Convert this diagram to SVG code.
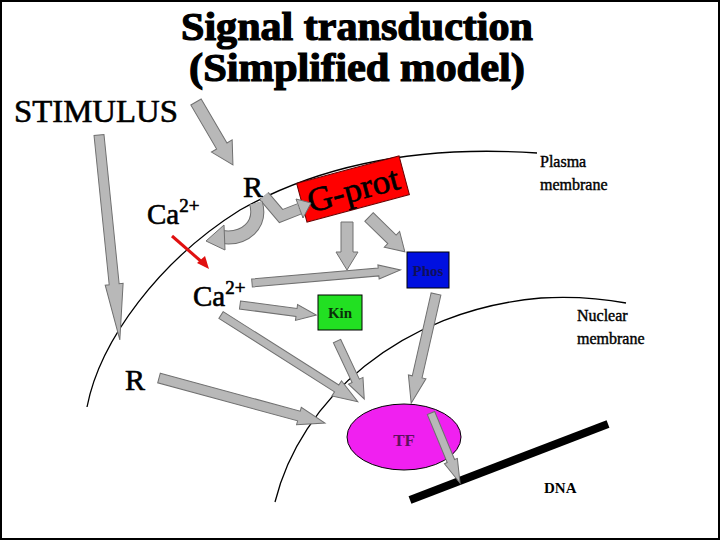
<svg xmlns="http://www.w3.org/2000/svg" width="720" height="540" viewBox="0 0 720 540">
<style>
.t{font-family:"Liberation Serif",serif;fill:#000}
.b{font-weight:bold}
.ar{fill:#b8b8b8;stroke:#707070;stroke-width:1}
.mem{fill:none;stroke:#000;stroke-width:1.3}
</style>
<rect x="0" y="0" width="720" height="540" fill="#fff"/>
<rect x="1" y="1" width="718" height="538" fill="none" stroke="#000" stroke-width="2"/>
<g id="title">
<text class="t b" x="357" y="40" font-size="40" text-anchor="middle" stroke="#000" stroke-width="1.2" textLength="352" lengthAdjust="spacingAndGlyphs">Signal transduction</text>
<text class="t b" x="357" y="81" font-size="40" text-anchor="middle" stroke="#000" stroke-width="1.2" textLength="336" lengthAdjust="spacingAndGlyphs">(Simplified model)</text>
</g>
<g id="membranes">
<path class="mem" d="M87,407 C100,340 160,260 240,210 C320,165 420,145 537,153"/>
<path class="mem" d="M275,502 C300,400 400,310 541,298 C580,296 610,300 626,303"/>
<text class="t" x="540" y="167" font-size="16" stroke="#000" stroke-width="0.4">Plasma</text>
<text class="t" x="540" y="190" font-size="16" stroke="#000" stroke-width="0.4">membrane</text>
<text class="t" x="577" y="321" font-size="16" stroke="#000" stroke-width="0.4">Nuclear</text>
<text class="t" x="577" y="344" font-size="16" stroke="#000" stroke-width="0.4">membrane</text>
</g>
<g id="stimulus"><text class="t" x="14" y="122" font-size="32" stroke="#000" stroke-width="0.6" textLength="164" lengthAdjust="spacingAndGlyphs">STIMULUS</text></g>
<g id="R1"><text class="t" x="243" y="197" font-size="30" stroke="#000" stroke-width="0.6">R</text></g>
<g id="Ca1"><text class="t" x="147" y="224" font-size="29" stroke="#000" stroke-width="0.6">Ca<tspan font-size="19" dy="-12">2+</tspan></text></g>
<g id="Ca2"><text class="t" x="193" y="306" font-size="29" stroke="#000" stroke-width="0.6">Ca<tspan font-size="19" dy="-12">2+</tspan></text></g>
<g id="R2"><text class="t" x="125" y="390" font-size="30" stroke="#000" stroke-width="0.6">R</text></g>
<g id="gprot" transform="translate(353,189) rotate(-15)">
<rect x="-53" y="-20" width="106" height="40" fill="#f00" stroke="#600" stroke-width="1"/>
<text class="t" x="0" y="12" font-size="34" text-anchor="middle" stroke="#000" stroke-width="0.6" textLength="94" lengthAdjust="spacingAndGlyphs">G-prot</text>
</g>
<g id="phos"><rect x="407" y="252" width="42" height="36" fill="#0010e0" stroke="#000" stroke-width="1"/>
<text class="t b" x="428" y="276" font-size="15" text-anchor="middle" style="fill:#10105a">Phos</text></g>
<g id="kin"><rect x="318" y="295" width="44" height="35" fill="#22e022" stroke="#000" stroke-width="1"/>
<text class="t b" x="340" y="318" font-size="15" text-anchor="middle" style="fill:#0a300a">Kin</text></g>
<g id="dna"><line x1="410" y1="500" x2="608" y2="424" stroke="#000" stroke-width="8"/>
<text class="t b" x="544" y="493" font-size="15">DNA</text></g>
<g id="connectors">
<line x1="172" y1="236" x2="203" y2="263" stroke="#e01010" stroke-width="3"/>
<polygon points="209,269 197,263 205,256" fill="#e01010"/>
<g transform="translate(196,102) rotate(59.6)"><path class="ar" d="M0,-6 L51,-6 L51,-12 L73,0 L51,12 L51,6 L0,6 Z"/></g>
<g transform="translate(99,135) rotate(84.2)"><path class="ar" d="M0,-5 L150,-5 L150,-9 L206,0 L150,9 L150,5 L0,5 Z"/></g>
<path d="M264,196 L281,216 L299,209" fill="none" stroke="#707070" stroke-width="12" stroke-linejoin="miter"/>
<path d="M264,196 L281,216 L299,209" fill="none" stroke="#b8b8b8" stroke-width="10" stroke-linejoin="miter"/>
<polygon class="ar" points="296,199 311,203 303,218"/>
<path d="M256,203 C262,225 245,240 222,237" fill="none" stroke="#707070" stroke-width="14"/>
<path d="M256,203 C262,225 245,240 222,237" fill="none" stroke="#b8b8b8" stroke-width="12"/>
<polygon class="ar" points="224,225 206,241 225,250"/>
<g transform="translate(347,222) rotate(90)"><path class="ar" d="M0,-6 L30,-6 L30,-11 L48,0 L30,11 L30,6 L0,6 Z"/></g>
<g transform="translate(369,217) rotate(44.2)"><path class="ar" d="M0,-6 L32,-6 L32,-11 L50,0 L32,11 L32,6 L0,6 Z"/></g>
<g transform="translate(252,283) rotate(-5)"><path class="ar" d="M0,-4 L127,-4 L127,-7 L149,0 L127,7 L127,4 L0,4 Z"/></g>
<g transform="translate(240,305) rotate(7.5)"><path class="ar" d="M0,-4 L57,-4 L57,-8 L77,0 L57,8 L57,4 L0,4 Z"/></g>
<g transform="translate(221,315) rotate(32.4)"><path class="ar" d="M0,-4 L137,-4 L137,-9 L162,0 L137,9 L137,4 L0,4 Z"/></g>
<g transform="translate(337,341) rotate(64.8)"><path class="ar" d="M0,-4 L44,-4 L44,-8 L64,0 L44,8 L44,4 L0,4 Z"/></g>
<g transform="translate(436,294) rotate(102.8)"><path class="ar" d="M0,-5 L85,-5 L85,-9 L112,0 L85,9 L85,5 L0,5 Z"/></g>
<g transform="translate(159,378) rotate(15.2)"><path class="ar" d="M0,-5 L145,-5 L145,-9 L172,0 L145,9 L145,5 L0,5 Z"/></g>
</g>
<g id="tf"><ellipse cx="404" cy="437" rx="57" ry="33" fill="#f020f0" stroke="#000" stroke-width="1"/>
<text class="t b" x="404" y="446" font-size="17" text-anchor="middle" style="fill:#601060">TF</text></g>
<g id="tf-dna"><g transform="translate(431,413) rotate(67.5)"><path class="ar" d="M0,-4 L52,-4 L52,-7 L76,0 L52,7 L52,4 L0,4 Z"/></g></g>
</svg>
